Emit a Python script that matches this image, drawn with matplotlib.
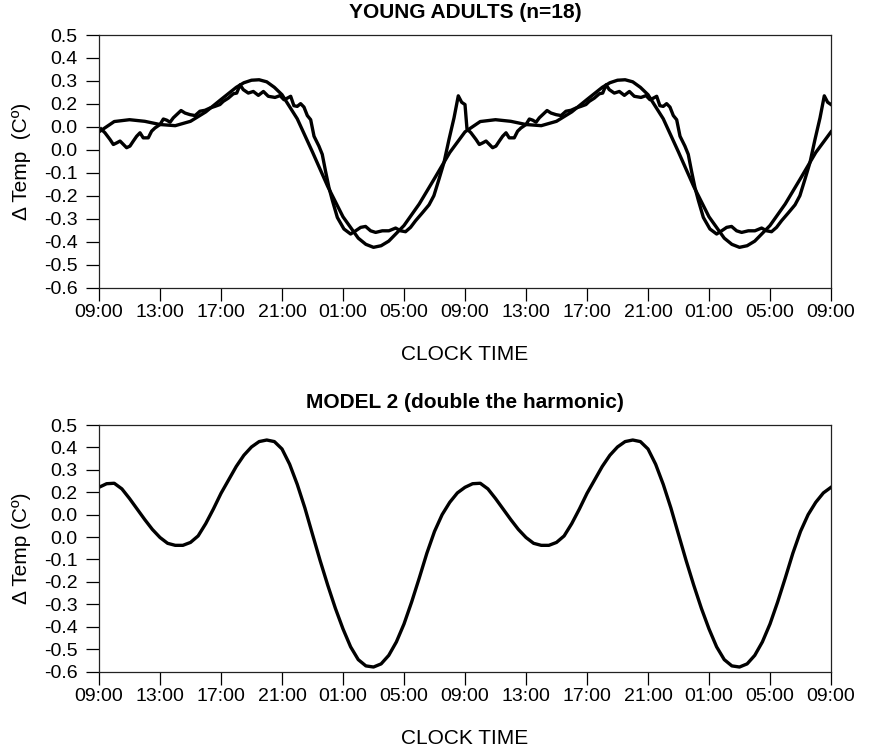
import numpy as np
import matplotlib
matplotlib.use("Agg")
import matplotlib.pyplot as plt

plt.rcParams['font.family'] = ['Liberation Sans', 'DejaVu Sans']

# ---- data (one 24 h day; the chart double-plots it over 48 h) ----
# Young adults: observed mean curve
obs_hours = [0.13, 0.39, 0.72, 0.94, 1.16, 1.38, 1.60, 1.81, 2.03, 2.25, 2.47, 2.69,
             2.90, 3.23, 3.45, 3.67, 4.00, 4.22, 4.44, 4.66, 4.87, 5.09, 5.38, 5.64,
             5.97, 6.30, 6.62, 6.95, 7.28, 7.60, 7.93, 8.15, 8.48, 8.81, 9.03, 9.25,
             9.46, 9.79, 10.12, 10.45, 10.78, 11.10, 11.54, 11.87, 12.13, 12.35, 12.57,
             12.78, 13.00, 13.22, 13.44, 13.66, 13.88, 14.10, 14.42, 14.64, 14.86, 15.08,
             15.30, 15.63, 16.06, 16.50, 16.83, 17.16, 17.48, 17.81, 18.14, 18.58, 19.01,
             19.45, 19.78, 20.10, 20.43, 20.76, 21.20, 21.64, 21.96, 22.29, 22.62, 22.95,
             23.28, 23.56, 23.78, 24.00]
obs_values = [0.091, 0.074, 0.045, 0.023, 0.030, 0.038, 0.023, 0.009, 0.016, 0.038, 0.059, 0.074,
              0.052, 0.052, 0.081, 0.095, 0.110, 0.134, 0.129, 0.120, 0.139, 0.153, 0.171, 0.160,
              0.153, 0.149, 0.168, 0.172, 0.182, 0.189, 0.197, 0.211, 0.225, 0.244, 0.247, 0.283,
              0.262, 0.247, 0.254, 0.237, 0.254, 0.233, 0.228, 0.236, 0.218, 0.225, 0.233,
              0.192, 0.189, 0.201, 0.186, 0.149, 0.131, 0.059, 0.016, -0.020, -0.095, -0.165,
              -0.220, -0.295, -0.345, -0.367, -0.353, -0.338, -0.334, -0.353, -0.360, -0.353, -0.353,
              -0.341, -0.353, -0.357, -0.338, -0.309, -0.275, -0.240, -0.200, -0.129, -0.056, 0.045,
              0.139, 0.235, 0.207, 0.197]

# Young adults: fitted cosinor curve
fit_hours = [0, 1, 2, 3, 4, 5, 6, 7, 8, 9, 9.5, 10, 10.5, 11, 11.5, 12, 13, 14, 15, 16,
             17, 17.5, 18, 18.5, 19, 20, 21, 22, 23]
fit_values = [0.078, 0.123, 0.131, 0.124, 0.110, 0.105, 0.124, 0.165, 0.219, 0.272, 0.292,
              0.303, 0.305, 0.296, 0.272, 0.240, 0.135, -0.010, -0.160, -0.292, -0.385,
              -0.412, -0.425, -0.418, -0.398, -0.330, -0.236, -0.125, -0.012]

# Model 2 (double the harmonic)
model_hours = [0, 0.5, 1, 1.5, 2, 2.5, 3, 3.5, 4, 4.5, 5, 5.5, 6, 6.5, 7, 7.5, 8, 8.5, 9,
               9.5, 10, 10.5, 11, 11.5, 12, 12.5, 13, 13.5, 14, 14.5, 15, 15.5, 16, 16.5,
               17, 17.5, 18, 18.5, 19, 19.5, 20, 20.5, 21, 21.5, 22, 22.5, 23, 23.5]
model_values = [0.222, 0.238, 0.240, 0.215, 0.172, 0.125, 0.078, 0.034, -0.002, -0.028,
                -0.037, -0.037, -0.024, 0.005, 0.060, 0.125, 0.195, 0.255, 0.315, 0.365,
                0.402, 0.426, 0.433, 0.426, 0.393, 0.325, 0.235, 0.130, 0.012, -0.105,
                -0.215, -0.318, -0.410, -0.490, -0.547, -0.575, -0.580, -0.566, -0.528,
                -0.468, -0.388, -0.290, -0.183, -0.072, 0.025, 0.100, 0.155, 0.197]

x_tick_hours = [0, 4, 8, 12, 16, 20, 24, 28, 32, 36, 40, 44, 48]
x_tick_labels = ["09:00", "13:00", "17:00", "21:00", "01:00", "05:00", "09:00",
                 "13:00", "17:00", "21:00", "01:00", "05:00", "09:00"]
y_tick_values = [0.5, 0.4, 0.3, 0.2, 0.1, 0.0, -0.1, -0.2, -0.3, -0.4, -0.5, -0.6]
y_tick_labels = ["0.5", "0.4", "0.3", "0.2", "0.0", "0.0", "-0.1", "-0.2", "-0.3",
                 "-0.4", "-0.5", "-0.6"]


def two_days(h, v, close=True):
    h = np.asarray(h, float)
    v = np.asarray(v, float)
    hh = np.concatenate([h, h + 24])
    vv = np.concatenate([v, v])
    if close:
        hh = np.append(hh, 48.0)
        vv = np.append(vv, v[0])
    return hh, vv


fig = plt.figure(figsize=(8.73, 7.5), dpi=100)
W, H = 873.0, 750.0


def make_ax(left, top, right, bottom):
    ax = fig.add_axes([left / W, 1 - bottom / H, (right - left) / W, (bottom - top) / H])
    ax.set_xlim(0, 48)
    ax.set_ylim(-0.6, 0.5)
    ax.set_xticks(x_tick_hours)
    ax.set_xticklabels(x_tick_labels)
    ax.set_yticks(y_tick_values)
    ax.set_yticklabels(y_tick_labels)
    ax.tick_params(direction='out', width=0.9, labelsize=14, colors='black')
    ax.tick_params(axis='y', length=9.5, pad=6)
    ax.tick_params(axis='x', length=9, pad=3)
    for s in ax.spines.values():
        s.set_linewidth(0.9)
        s.set_color('#222222')
    return ax


LW = 2.4
ax1 = make_ax(99, 35, 831, 287.5)
h, v = two_days(fit_hours, fit_values)
ax1.plot(h, v, color='black', lw=LW, solid_joinstyle='round')
h, v = two_days(obs_hours, obs_values, close=False)
ax1.plot(h, v, color='black', lw=LW, solid_joinstyle='round')

ax2 = make_ax(99, 425, 831, 671.5)
h, v = two_days(model_hours, model_values)
ax2.plot(h, v, color='black', lw=LW, solid_joinstyle='round')

fig.text(465 / W, 1 - 13 / H, "YOUNG ADULTS (n=18)", ha='center', va='center',
         fontsize=15, fontweight='bold')
fig.text(465 / W, 1 - 403 / H, "MODEL 2 (double the harmonic)", ha='center', va='center',
         fontsize=15, fontweight='bold')
fig.text(465 / W, 1 - 354 / H, "CLOCK TIME", ha='center', va='center', fontsize=15)
fig.text(465 / W, 1 - 738 / H, "CLOCK TIME", ha='center', va='center', fontsize=15)
fig.text(22 / W, 1 - 161 / H, "\u0394 Temp  (C\u00ba)", ha='center', va='center',
         rotation=90, fontsize=15)
fig.text(22 / W, 1 - 548 / H, "\u0394 Temp (C\u00ba)", ha='center', va='center',
         rotation=90, fontsize=15)

fig.savefig("out.png", dpi=100)
